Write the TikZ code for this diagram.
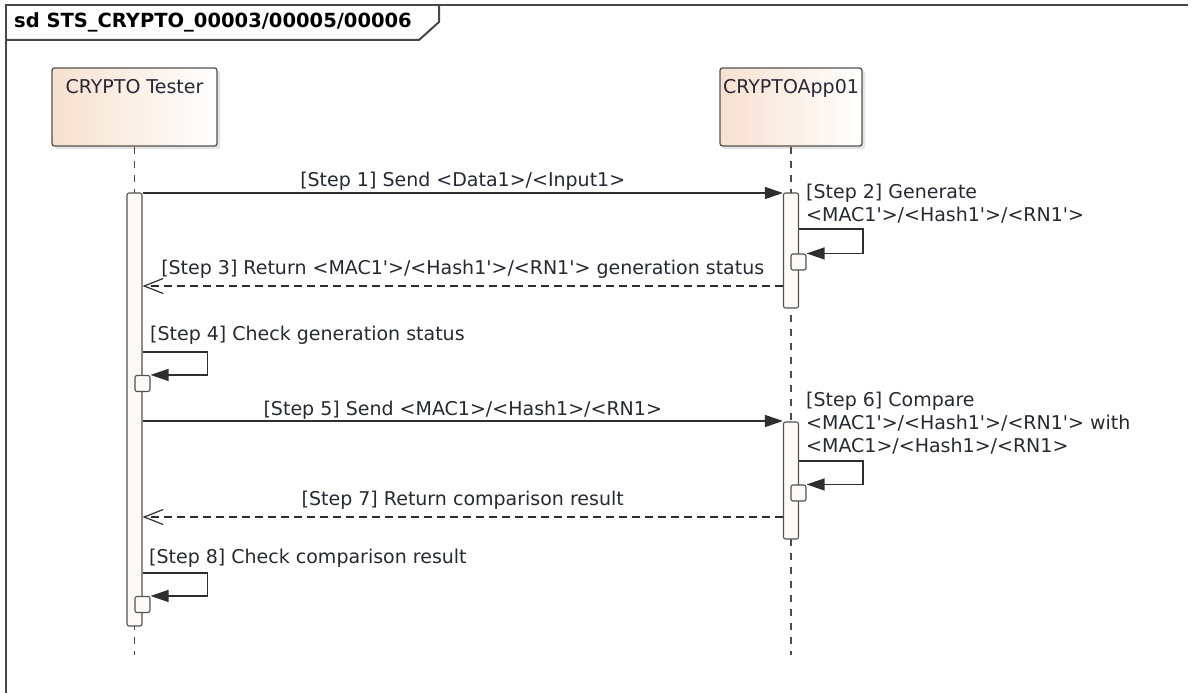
\documentclass[tikz,border=0pt]{standalone}
\usepackage{fontspec}
\setmainfont{DejaVu Sans}[Ligatures=TeXOff]
\newfontfamily\titlefont{DejaVu Sans}[Ligatures=TeXOff]
\usetikzlibrary{shapes,shadows,arrows.meta,positioning,calc}
\definecolor{headcol}{RGB}{247,224,207}
\definecolor{barcol}{RGB}{253,249,246}
\definecolor{ink}{RGB}{40,40,52}
\tikzset{frame/.style={black!72,line width=2pt},
sdtitle/.style={anchor=base west,inner sep=0pt,text=black,
  font=\titlefont\bfseries\fontsize{19.5}{23}\selectfont},
txt/.style={inner sep=0pt,text=ink,font=\fontsize{19}{23}\selectfont},
head/.style={txt,rectangle,rounded corners=2.5pt,draw=black!68,line width=1.3pt,
  left color=headcol,right color=white,text height=20.5pt,text depth=48.5pt,
  inner ysep=4.5pt,drop shadow={shadow xshift=3pt,shadow yshift=-3pt,fill=black!22}},
bar/.style={rectangle,rounded corners=2pt,draw=black!68,line width=1.1pt,
  fill=barcol,minimum width=15pt,inner sep=0pt},
nest/.style={bar,minimum height=16pt},
life/.style={black!70,line width=1.1pt,dash pattern=on 7pt off 7pt},
msg/.style={black!82,line width=1.2pt,-{Triangle[length=18pt,width=12pt]}},
ret/.style={black!82,line width=1.2pt,dash pattern=on 8pt off 5pt,
  -{Straight Barb[length=19pt,width=15pt]}}}
\begin{document}
\begin{tikzpicture}[x=1pt,y=-1pt]
  \useasboundingbox (0,0) rectangle (1194,693);
  % frame and title tab
  \draw[frame] (1188,5) -- (6,5) -- (6,693);
  \draw[frame] (6,40) -- (419,40) -- (439,22) -- (439,5);
  \node[sdtitle] (sd) at (14,28) {sd STS\_CRYPTO\_00003/00005/00006};
  % lifelines
  \node[head,minimum width=165pt] (tester) at (134.5,107) {CRYPTO Tester};
  \node[head,minimum width=142pt] (app) at (791,107) {CRYPTOApp01};
  \coordinate (tend) at (134.5,655);
  \coordinate (aend) at (791,655);
  \draw[life] (tester) -- (tend);
  \draw[life] (app) -- (aend);
  % activations
  \node[bar,minimum height=433pt] (tbar) at (134.5,409.5) {};
  \node[bar,minimum height=115pt] (abar1) at (791,250.5) {};
  \node[bar,minimum height=117pt] (abar2) at (791,480.5) {};
  \node[nest] (n2) at (798.5,262) {};
  \node[nest] (n4) at (142.5,383.5) {};
  \node[nest] (n6) at (798.5,493) {};
  \node[nest] (n8) at (142.5,604.5) {};
  \foreach \n/\y in {1/193,2/229,3/286,4/352,5/421,6/461,7/517,8/573}
    \coordinate (y\n) at (0,\y);
  % messages
  \draw[msg] (tbar.east |- y1) -- node[txt,anchor=base,yshift=7pt]
    {[Step 1] Send <Data1>/<Input1>} (abar1.west |- y1);
  \draw[msg] (abar1.east |- y2) -- ++(64,0) |- (n2.north east);
  \node[txt,anchor=base west,align=left] (l2) at (806,221)
    {[Step 2] Generate\\<MAC1'>/<Hash1'>/<RN1'>};
  \draw[ret] (abar1.west |- y3) -- node[txt,anchor=base,yshift=12pt]
    {[Step 3] Return <MAC1'>/<Hash1'>/<RN1'> generation status} (tbar.east |- y3);
  \draw[msg] (tbar.east |- y4) -- ++(65,0) |- (n4.north east);
  \node[txt,anchor=base west] (l4) at (150,340) {[Step 4] Check generation status};
  \draw[msg] (tbar.east |- y5) -- node[txt,anchor=base,yshift=6pt]
    {[Step 5] Send <MAC1>/<Hash1>/<RN1>} (abar2.west |- y5);
  \draw[msg] (abar2.east |- y6) -- ++(64,0) |- (n6.north east);
  \node[txt,anchor=base west,align=left] (l6) at (806,452)
    {[Step 6] Compare\\<MAC1'>/<Hash1'>/<RN1'> with\\<MAC1>/<Hash1>/<RN1>};
  \draw[ret] (abar2.west |- y7) -- node[txt,anchor=base,yshift=12pt]
    {[Step 7] Return comparison result} (tbar.east |- y7);
  \draw[msg] (tbar.east |- y8) -- ++(65,0) |- (n8.north east);
  \node[txt,anchor=base west] (l8) at (149,563) {[Step 8] Check comparison result};
\end{tikzpicture}
\end{document}
